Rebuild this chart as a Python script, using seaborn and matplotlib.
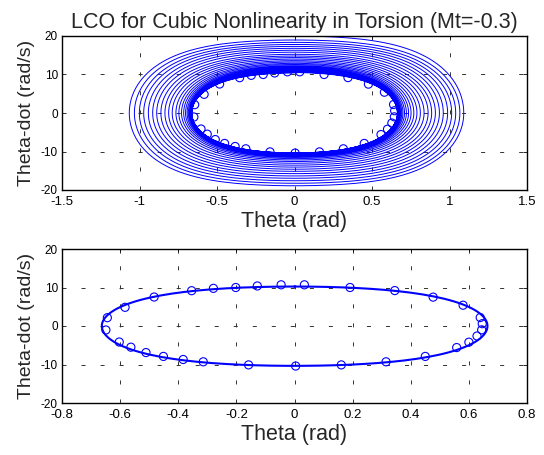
import numpy as np
import pandas as pd
import matplotlib
matplotlib.use("Agg")
import matplotlib.pyplot as plt
import seaborn as sns

sns.set_style("white")
plt.rcParams["font.family"] = ["Liberation Sans", "DejaVu Sans"]
plt.rcParams["axes.unicode_minus"] = False
plt.rcParams["lines.scale_dashes"] = False

# ---------------- data ----------------
title = "LCO for Cubic Nonlinearity in Torsion (Mt=-0.3)"
xlabel = "Theta (rad)"
ylabel = "Theta-dot (rad/s)"

# transient spiral (top panel): turning points of each cycle
spiral_top = [20.0, 18.96, 18.35, 17.80, 17.30, 16.80, 16.30, 15.80, 15.25, 14.80,
              14.40, 14.00, 13.60, 13.25, 12.90, 12.60, 12.30, 12.05, 11.80, 11.60,
              11.40, 11.22, 11.06, 10.92, 10.80, 10.70, 10.60, 10.50, 10.42]
spiral_right = [1.092, 1.067, 1.040, 1.014, 0.988, 0.960, 0.935, 0.909, 0.885, 0.862,
                0.836, 0.812, 0.790, 0.770, 0.752, 0.736, 0.722, 0.710, 0.700, 0.692,
                0.685, 0.679, 0.674, 0.670, 0.667, 0.665, 0.664, 0.664]
spiral_bottom = [-18.90, -18.25, -17.60, -16.95, -16.35, -15.75, -15.15, -14.60, -14.05, -13.55,
                 -13.05, -12.60, -12.20, -11.85, -11.55, -11.30, -11.10, -10.95, -10.82, -10.72,
                 -10.64, -10.57, -10.52, -10.48, -10.45, -10.42, -10.40, -10.38]
spiral_left = [-1.066, -1.033, -1.001, -0.973, -0.943, -0.915, -0.889, -0.862, -0.836, -0.812,
               -0.789, -0.765, -0.746, -0.729, -0.715, -0.703, -0.693, -0.685, -0.678, -0.672,
               -0.668, -0.666, -0.665, -0.664, -0.664, -0.663, -0.663, -0.663]

# limit cycle (bottom panel): turning points
lco_top, lco_right, lco_bottom, lco_left = 10.25, 0.664, -10.35, -0.663

# circle markers on the limit cycle
marker_theta = [-0.046, 0.034, 0.191, 0.345, 0.477, 0.580, 0.639, 0.646, 0.644, 0.628,
                0.600, 0.558, 0.450, 0.315, 0.161, 0.004, -0.158, -0.314, -0.383, -0.451,
                -0.511, -0.563, -0.603, -0.649, -0.644, -0.583, -0.483, -0.354, -0.279,
                -0.202, -0.128]
marker_thetadot = [10.7, 10.7, 10.0, 9.2, 7.5, 5.4, 2.2, 0.6, -1.0, -2.6,
                   -4.2, -5.6, -7.9, -9.3, -10.1, -10.4, -10.1, -9.3, -8.7, -7.9,
                   -6.9, -5.5, -4.16, -1.04, 2.16, 4.85, 7.53, 9.17, 9.78,
                   10.0, 10.4]

top_xticks = [-1.5, -1, -0.5, 0, 0.5, 1, 1.5]
top_xticklabels = ["-1.5", "-1", "-0.5", "0", "0.5", "1", "1.5"]
bot_xticks = [-0.8, -0.6, -0.4, -0.2, 0, 0.2, 0.4, 0.6, 0.8]
bot_xticklabels = ["-0.8", "-0.6", "-0.4", "-0.2", "0", "0.2", "0.4", "0.6", "0.8"]
yticks = [-20, -10, 0, 10, 20]
yticklabels = ["-20", "-10", "0", "10", "20"]

# ---------------- path construction (cubic-stiffness shaped arcs) ----------------
SHAPE_K = 2.2
NPTS = 40


def V(x):
    return x ** 2 / 2 + SHAPE_K * x ** 4 / 4


def quarter(xamp, yamp, forward=True):
    s = np.sin(np.linspace(0, np.pi / 2, NPTS))
    x = xamp * s
    y = yamp * np.sqrt(np.clip(1 - V(x) / V(xamp), 0, None))
    if not forward:
        x, y = x[::-1], y[::-1]
    return x, y


def loop_path(tops, rights, bottoms, lefts):
    xs, ys = [], []
    for k in range(len(rights)):
        for xa, ya, fw in [(rights[k], tops[k], True), (rights[k], bottoms[k], False),
                           (lefts[k], bottoms[k], True), (lefts[k], tops[k + 1], False)]:
            x, y = quarter(xa, ya, fw)
            xs.append(x)
            ys.append(y)
    return np.concatenate(xs), np.concatenate(ys)


sx, sy = loop_path(spiral_top, spiral_right, spiral_bottom, spiral_left)
spiral_df = pd.DataFrame({"theta": sx, "thetadot": sy})
lx, ly = loop_path([lco_top, lco_top], [lco_right], [lco_bottom], [lco_left])
lco_df = pd.DataFrame({"theta": lx, "thetadot": ly})
mk_df = pd.DataFrame({"theta": marker_theta, "thetadot": marker_thetadot})

# ---------------- figure ----------------
W, H = 544, 455
fig = plt.figure(figsize=(W / 100, H / 100), dpi=100)
ax1 = fig.add_axes([62 / W, 1 - 190 / H, 465 / W, 154 / H])
ax2 = fig.add_axes([62 / W, 1 - 403 / H, 465 / W, 154 / H])

blue = (0, 0, 1)
sns.lineplot(data=spiral_df, x="theta", y="thetadot", sort=False, estimator=None,
             color=blue, lw=0.7, ax=ax1)
sns.scatterplot(data=mk_df, x="theta", y="thetadot", marker="o", s=34,
                facecolor="none", edgecolor=blue, linewidth=0.8, ax=ax1, zorder=3)

sns.lineplot(data=lco_df, x="theta", y="thetadot", sort=False, estimator=None,
             color=blue, lw=1.5, ax=ax2)
sns.scatterplot(data=mk_df, x="theta", y="thetadot", marker="o", s=34,
                facecolor="none", edgecolor=blue, linewidth=0.8, ax=ax2, zorder=3)


def style(ax, xt, xtl, xlim):
    ax.set_xlim(*xlim)
    ax.set_ylim(-20, 20)
    ax.set_xticks(xt)
    ax.set_xticklabels(xtl)
    ax.set_yticks(yticks)
    ax.set_yticklabels(yticklabels)
    ax.grid(True, color="0.2", linestyle=(0, (2.9, 10.8)), linewidth=0.7)
    ax.set_axisbelow(True)
    ax.tick_params(direction="in", length=3, width=0.6, top=True, right=True,
                   colors="black")
    ax.tick_params(axis="x", labelsize=9.5, pad=4.5)
    ax.tick_params(axis="y", labelsize=8.5, pad=3)
    for sp in ax.spines.values():
        sp.set_color("black")
        sp.set_linewidth(1.0)
    ax.set_xlabel(xlabel, fontsize=15.5, labelpad=2)
    ax.set_ylabel(ylabel, fontsize=14, labelpad=4)


style(ax1, top_xticks, top_xticklabels, (-1.5, 1.5))
style(ax2, bot_xticks, bot_xticklabels, (-0.8, 0.8))
ax1.set_title(title, fontsize=15.5, pad=6)

fig.savefig("out.png", dpi=100)
